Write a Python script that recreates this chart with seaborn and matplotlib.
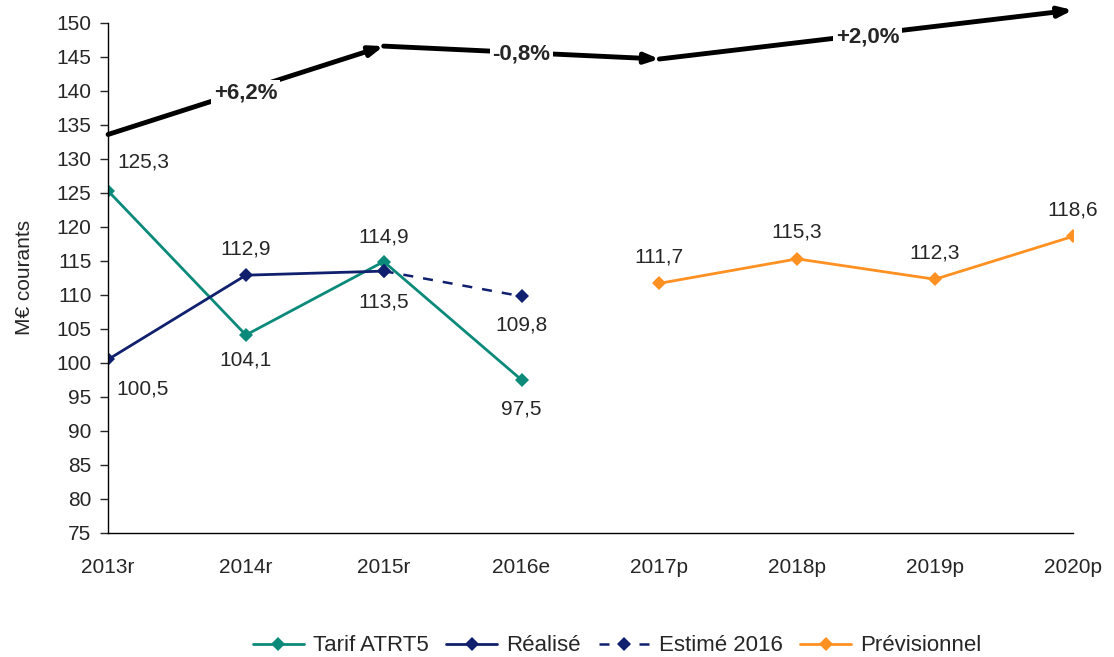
import pandas as pd
import matplotlib
matplotlib.use('Agg')
import matplotlib.pyplot as plt
import seaborn as sns

sns.set_style('white')
plt.rcParams['font.family'] = ['Liberation Sans', 'DejaVu Sans']

# données
annees = ['2013r', '2014r', '2015r', '2016e', '2017p', '2018p', '2019p', '2020p']
tarif_atrt5 = [125.3, 104.1, 114.9, 97.5]
realise = [100.5, 112.9, 113.5]
estime_2016 = [113.5, 109.8]
previsionnel = [111.7, 115.3, 112.3, 118.6]

# fleches d'évolution
fleche_x = [0, 2, 4, 7]
fleche_y = [133.6, 146.6, 144.7, 151.9]
evolutions = ['+6,2%', '-0,8%', '+2,0%']
evol_pos = [(1.0, 139.7), (3.0, 145.4), (5.51, 147.9)]

pos = {a: i for i, a in enumerate(annees)}

df_tarif = pd.DataFrame({'x': [pos[a] for a in annees[0:4]], 'v': tarif_atrt5})
df_real = pd.DataFrame({'x': [pos[a] for a in annees[0:3]], 'v': realise})
df_est = pd.DataFrame({'x': [pos[a] for a in annees[2:4]], 'v': estime_2016})
df_prev = pd.DataFrame({'x': [pos[a] for a in annees[4:8]], 'v': previsionnel})

vert = '#0B8A7A'
bleu = '#10206E'
orange = '#FF9022'

fig = plt.figure(figsize=(11.14, 6.57), dpi=100)
ax = fig.add_axes([0.097, 0.189, 0.866, 0.776])

kw = dict(marker='D', markersize=7, markeredgewidth=0, ax=ax)
sns.lineplot(data=df_tarif, x='x', y='v', color=vert, label='Tarif ATRT5', linewidth=2, **kw)
sns.lineplot(data=df_real, x='x', y='v', color=bleu, label='Réalisé', linewidth=2, **kw)
sns.lineplot(data=df_est, x='x', y='v', color=bleu, label='Estimé 2016',
             linestyle=(0, (4, 4)), linewidth=1.8, **kw)
sns.lineplot(data=df_prev, x='x', y='v', color=orange, label='Prévisionnel', linewidth=2, **kw)

# étiquettes de valeurs
fs = 15
def etiq(x, v, dx, dy, ha='center'):
    ax.annotate(f'{v:.1f}'.replace('.', ','), (x, v), xytext=(dx, dy),
                textcoords='offset points', ha=ha, va='center', fontsize=fs)

etiq(0, tarif_atrt5[0], 7, 21, ha='left')
etiq(1, tarif_atrt5[1], 0, -18)
etiq(2, tarif_atrt5[2], 0, 18)
etiq(3, tarif_atrt5[3], 0, -21)
etiq(0, realise[0], 6, -21, ha='left')
etiq(1, realise[1], 0, 19)
etiq(2, realise[2], 0, -22)
etiq(3, estime_2016[1], 0, -21)
for i, v in enumerate(previsionnel):
    etiq(4 + i, v, 0, 19)

# flèches
for i in range(len(fleche_x) - 1):
    ax.annotate('', xy=(fleche_x[i + 1], fleche_y[i + 1]), xytext=(fleche_x[i], fleche_y[i]),
                arrowprops=dict(arrowstyle='-|>,head_length=0.8,head_width=0.3', color='black',
                                lw=3.5, shrinkA=0, shrinkB=0),
                annotation_clip=False)
for (x, y), t in zip(evol_pos, evolutions):
    ax.text(x, y, t, ha='center', va='center', fontsize=16, fontweight='bold',
            bbox=dict(facecolor='white', edgecolor='none', pad=2), zorder=5, clip_on=False)

ax.set_xlim(0, 7)
ax.set_ylim(75, 150)
ax.set_yticks(range(75, 151, 5))
ax.set_xticks(range(len(annees)))
ax.set_xticklabels(annees)
ax.tick_params(axis='y', which='major', direction='out', length=6, width=1, pad=6,
               labelsize=15, left=True)
ax.tick_params(axis='x', length=0, labelsize=15, pad=18)
ax.set_xlabel('')
ax.set_ylabel('M€ courants', fontsize=15, labelpad=16)
for s in ['top', 'right']:
    ax.spines[s].set_visible(False)
for s in ['left', 'bottom']:
    ax.spines[s].set_color('black')
    ax.spines[s].set_linewidth(1)

ax.legend(loc='center', bbox_to_anchor=(0.554, 0.017), bbox_transform=fig.transFigure,
          ncol=4, frameon=False, fontsize=16, handlelength=2.3, columnspacing=0.8,
          handletextpad=0.4, borderpad=0)

fig.savefig('out.png', dpi=100)
